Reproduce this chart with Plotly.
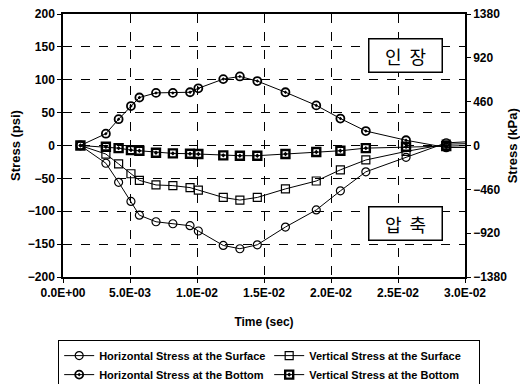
import plotly.graph_objects as go

time_s = [0.0013, 0.0032, 0.00415, 0.00507, 0.0057, 0.00694, 0.0082, 0.00948, 0.0101,
          0.01196, 0.0132, 0.0145, 0.0166, 0.0189, 0.0207, 0.0226, 0.0256, 0.0286, 0.0305]
horiz_surface = [0, -27, -56, -85, -106, -116, -119, -122, -130, -152, -157, -151, -124,
                 -98, -69, -40, -18, 4, 6]
vert_surface = [0, -13, -28, -43, -53, -60, -61, -64, -68, -79, -83, -79, -66, -54, -37,
                -22, -9, 2, 3]
horiz_bottom = [0, 18, 40, 60, 73, 80, 80, 81, 87, 101, 105, 98, 81, 61, 41, 22, 8, -3, -3]
vert_bottom = [0, -2, -4, -7, -8, -11, -12, -12.5, -13, -15, -15.5, -15.5, -13, -10, -8,
               -4, -2, -1, 0]

series_names = ["Horizontal Stress at the Surface", "Vertical Stress at the Surface",
                "Horizontal Stress at the Bottom", "Vertical Stress at the Bottom"]
x_tickvals = [0, 0.005, 0.01, 0.015, 0.02, 0.025, 0.03]
x_ticktext = ["0.0E+00", "5.0E-03", "1.0E-02", "1.5E-02", "2.0E-02", "2.5E-02", "3.0E-02"]
psi_ticks = [200, 150, 100, 50, 0, -50, -100, -150, -200]
kpa_ticks = [1380, 920, 460, 0, -460, -920, -1380]
label_tension = "인  장"
label_compression = "압  축"
title_right = "Stress (kPa)"

FONT = "Liberation Sans, Arial, sans-serif"

fig = go.Figure()
styles = [
    dict(symbol="circle-open", size=8, line=dict(width=1.2, color="black")),
    dict(symbol="square-open", size=8, line=dict(width=1.2, color="black")),
    dict(symbol="circle-open-dot", size=8, line=dict(width=1.8, color="black")),
    dict(symbol="square-open-dot", size=8, line=dict(width=2.4, color="black")),
]
for name, vals, mk in zip(series_names, [horiz_surface, vert_surface, horiz_bottom, vert_bottom], styles):
    fig.add_trace(go.Scatter(x=time_s, y=vals, name=name, mode="lines+markers",
                             line=dict(color="black", width=1), marker=dict(color="black", **mk)))

fig.add_trace(go.Scatter(x=[None], y=[None], yaxis="y2", showlegend=False, hoverinfo="skip"))

axis_common = dict(showline=True, linecolor="black", linewidth=1.5, ticks="outside",
                   ticklen=4, tickcolor="black", automargin=False, ticklabeloverflow="allow",
                   tickfont=dict(family=FONT, size=12, color="black", weight="bold"),
                   zeroline=False)

# page body has an 8px margin: figure is 520x376 so it fills the 528x384 window
fig.update_layout(
    width=520, height=376,
    margin=dict(l=55, r=63, t=6, b=107, autoexpand=False),
    paper_bgcolor="white", plot_bgcolor="white",
    font=dict(family=FONT, color="black"),
    xaxis=dict(range=[0, 0.03], tickvals=x_tickvals, ticktext=x_ticktext, mirror=True,
               showgrid=True, gridcolor="black", griddash="dash", gridwidth=1,
               title=dict(text="Time (sec)", font=dict(family=FONT, size=12, weight="bold"), standoff=18),
               **axis_common),
    yaxis=dict(range=[-200, 200], tickvals=psi_ticks, mirror=True,
               showgrid=True, gridcolor="black", griddash="dash", gridwidth=1,
               title=dict(text="Stress (psi)", font=dict(family=FONT, size=13, weight="bold"), standoff=10),
               **axis_common),
    yaxis2=dict(range=[-1380, 1380], tickvals=kpa_ticks, overlaying="y", side="right",
                showgrid=False, **axis_common),
    legend=dict(orientation="h", x=-0.012, xanchor="left", y=-0.24, yanchor="top",
                bordercolor="black", borderwidth=1, bgcolor="white",
                font=dict(family=FONT, size=11, color="black", weight="bold"),
                entrywidth=165, entrywidthmode="pixels", itemwidth=30,
                tracegroupgap=0),
    showlegend=True,
)

fig.add_annotation(text=title_right, xref="paper", yref="paper", x=1.119, y=0.5,
                   xanchor="center", yanchor="middle", textangle=-90, showarrow=False,
                   font=dict(family=FONT, size=13, color="black", weight="bold"))

for txt, yy in [(label_tension, 0.844), (label_compression, 0.203)]:
    fig.add_annotation(text=txt, xref="paper", yref="paper", x=0.852, y=yy,
                       xanchor="center", yanchor="middle",
                       showarrow=False, width=72, height=32, borderpad=0,
                       bordercolor="black", borderwidth=1.5, bgcolor="white",
                       font=dict(family="Noto Sans CJK KR", size=18, color="black"))

fig.write_html("out.html")
